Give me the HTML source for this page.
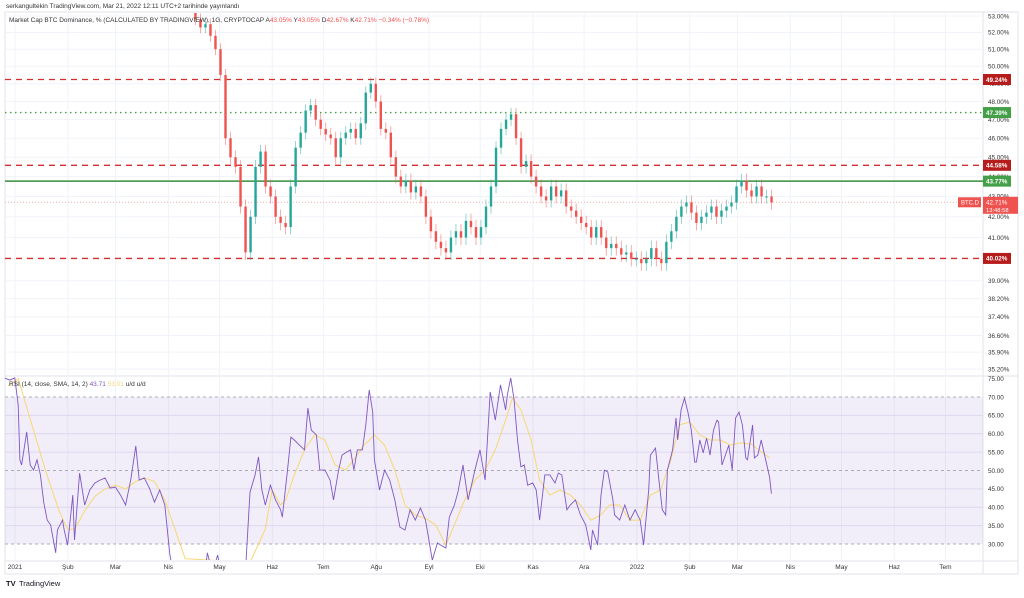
<!DOCTYPE html>
<html><head><meta charset="utf-8"><style>
html,body{margin:0;padding:0;background:#fff;}
body{width:1024px;height:593px;overflow:hidden;font-family:"Liberation Sans",sans-serif;}
</style></head><body>
<svg id="chart" width="1024" height="593" viewBox="0 0 1024 593" xmlns="http://www.w3.org/2000/svg" font-family="Liberation Sans, sans-serif">
<defs>
<clipPath id="mainClip"><rect x="5" y="13" width="978" height="362"/></clipPath>
<clipPath id="rsiClip"><rect x="5" y="377" width="978" height="183"/></clipPath>
</defs>
<text x="6" y="8" font-size="6.5" fill="#333">serkangultekin TradingView.com, Mar 21, 2022 12:11 UTC+2 tarihinde yayınlandı</text>
<rect x="5" y="12" width="1013" height="562" fill="none" stroke="#e0e3eb" stroke-width="1"/>
<line x1="983" y1="12" x2="983" y2="574" stroke="#e0e3eb"/>
<line x1="5" y1="376" x2="1018" y2="376" stroke="#e0e3eb"/>
<line x1="5" y1="561" x2="1018" y2="561" stroke="#e0e3eb"/>
<g id="grid"></g>
<g id="rsiBand"></g>
<g id="levels"></g>
<g id="candles" clip-path="url(#mainClip)"></g>
<g id="rsi" clip-path="url(#rsiClip)"></g>
<g id="axes"></g>
<text x="9" y="22" font-size="6.5" fill="#333">Market Cap BTC Dominance, % (CALCULATED BY TRADINGVIEW), 1G, CRYPTOCAP <tspan fill="#333">A</tspan><tspan fill="#ef5350">43.05%</tspan> Y<tspan fill="#ef5350">43.05%</tspan> D<tspan fill="#ef5350">42.67%</tspan> K<tspan fill="#ef5350">42.71%</tspan> <tspan fill="#ef5350">−0.34% (−0.78%)</tspan></text>
<text x="9" y="386" font-size="6.5" fill="#333">RSI (14, close, SMA, 14, 2) <tspan fill="#7e57c2">43.71</tspan> <tspan fill="#f7d774">53.01</tspan> u/d u/d</text>
<g><text x="6" y="586" font-size="7.5" font-weight="bold" fill="#131722">TV</text><text x="19" y="586" font-size="7.5" fill="#131722">TradingView</text></g>
</svg>
<script>
// ---- data ----
const priceTicks=[53,52,51,50,49,48,47,46,45,44,43,42,41,40,39,38.2,37.4,36.6,35.9,35.2];
const rsiTicks=[75,70,65,60,55,50,45,40,35,30];
const monthLabels=["2021","Şub","Mar","Nis","May","Haz","Tem","Ağu","Eyl","Eki","Kas","Ara","2022","Şub","Mar","Nis","May","Haz","Tem"];
const monthDays=[0,31,59,90,120,151,181,212,243,273,304,334,365,396,424,455,485,516,546];
const candleStartDay=110;
const candleStepDays=2.94;
const closes=[52.8,52.3,52.5,51.8,51,49.5,46,45,44.5,42.5,40.3,42,44.5,45.3,43.5,43,42,41.7,41.5,43.5,45.5,46.3,47.5,47.8,47,46.5,46.2,46,45,46,46.3,46.5,46,46.8,48.5,49,48,46.5,46.3,45,44,43.5,43.8,43.2,43.5,43,42,41.3,40.8,40.5,40.3,41,41.3,41,41.8,41.5,41,41.5,42.5,43.5,45.5,46.5,47,47.3,46,44.5,44.8,44,43.5,43,42.8,43.5,43,43.3,42.5,42.3,42,41.7,41.5,41,41.5,41,40.5,40.7,40.5,40.2,40.3,40,40,39.8,40,40.5,40,39.8,40.8,41.3,42,42.5,42.7,42.2,41.7,42,42.2,42.5,42,42.3,42.5,42.7,43.5,43.8,43.3,43,43.5,43,43,42.7];
const firstOpen=53.5;
const rsiDays=[-2,1,4,6,7,8,11,13,15,17,19,21,23,25,28,29,32,33,35,38,39,42,45,48,51,54,57,60,63,66,69,72,75,77,80,83,86,89,92,95,98,104,110,116,117,120,123,127,133,139,142,145,147,149,151,154,157,160,161,164,166,168,171,174,176,178,181,183,186,189,191,194,196,198,201,203,205,208,210,212,214,215,218,221,224,227,230,233,236,239,242,245,247,249,252,254,257,259,262,264,267,270,272,274,277,280,283,286,289,292,293,295,297,299,301,303,305,308,310,312,315,318,321,323,325,328,330,333,336,339,342,343,346,348,350,352,355,356,359,362,365,368,371,373,376,377,380,382,384,386,387,390,392,393,395,397,399,401,403,404,406,408,410,412,414,416,417,419,421,423,425,427,429,431,433,434,437,438,440,442,444,446,447,448];
const rsiVals=[75.2,74.6,75.2,67.8,52.9,51.5,60.5,51.5,50.1,52.9,48.8,41.2,36.5,35.2,27.6,33.8,36.5,33.8,29.7,43.3,31.1,49.3,40.6,44.7,46.6,47.4,48,45.2,45.5,43.3,40.6,47.4,56.7,47.4,48,45.2,41.4,44.7,40.6,27,20,18,22,24,27.6,22,27,18,15,20,44.1,48.8,53.7,44.7,40.6,46,42,39.3,37.3,50.1,59.1,58.3,56.9,55.6,67,61,59.7,50.1,50.1,47.4,42,50.1,54.2,54.8,55.6,50.1,55.6,55.6,62.4,71.9,65.9,52.9,44.7,50.1,47.4,42,34.6,33.8,39.3,36.5,39.8,36.5,31.1,25.6,30.3,29.7,28.9,37.3,40.6,44.1,51.5,42,46,50.1,55.6,47.4,71.4,63.7,73.3,66.5,70.5,75.2,69.2,58.3,51,51.5,46,46.6,44.7,36.5,48.8,48.8,46.6,49.3,48.8,39.3,40.6,42,37.9,35.2,28.4,33.8,29.7,43.3,50.1,49.6,42,37.9,36.5,40.6,36.5,39.3,36.5,29.7,44.7,54.2,56.1,47.4,39.3,37.9,50.1,55.6,64.3,58.3,66.5,69.7,65.9,61,52.3,52.3,58.3,54.8,58.8,54.2,61,63.7,63.2,51.5,54.2,56.9,50.1,64.3,65.9,62.4,53.4,52.9,62.4,53.4,54.2,58.3,54.2,50.1,48,43.7];
const smaDays=[0,6,13,22,30,35,39,45,51,57,63,69,75,80,86,92,98,104,142,151,155,160,163,168,174,180,186,192,198,203,209,215,221,227,233,239,245,251,257,262,268,274,280,286,292,296,301,307,312,318,324,330,336,342,348,353,359,365,371,377,383,389,394,400,406,412,418,424,430,436,447];
const smaVals=[73,75,64,50,39,34,34,39,43,45,46,45,47,48,47,42,34,26,25,34,44.7,40.6,42,48.8,55.6,59.7,58.3,51.5,50.1,52.9,56.9,59.7,56.9,50.1,40.6,37.9,37,35.2,29.7,35.2,42,47.4,50.1,55.6,63.7,69.7,66.5,58.3,47.4,43.3,44.7,43.3,40.6,36.5,37.9,40.6,40.6,36.5,36.5,43.3,44.7,52.9,62.4,63.2,59.7,58.3,58.3,56.9,57.5,57.2,53.4];
const levelVals=[49.24,47.39,44.58,43.77,40.02];
const levelLabels=["49.24%","47.39%","44.58%","43.77%","40.02%"];
const levelKinds=["red-dash","green-dot","red-dash","green-solid","red-dash"];
const lastPrice=42.71;

// ---- scales ----
const X0=8, PXDAY=1.704, GRID_DX=7;
const xDay=d=>X0+d*PXDAY;
const LTOP=Math.log(53), Y53=16, KLOG=863;
const yP=v=>Y53+(LTOP-Math.log(v))*KLOG;
const yR=v=>397+(70-v)*3.675;
const NS="http://www.w3.org/2000/svg";
function mk(tag,attrs,parent){const e=document.createElementNS(NS,tag);for(const k in attrs)e.setAttribute(k,attrs[k]);parent.appendChild(e);return e;}
const grid=document.getElementById('grid'),axes=document.getElementById('axes');

monthDays.forEach((d,i)=>{
  const x=xDay(d)+GRID_DX;
  const gl=mk('line',{x1:x,y1:13,x2:x,y2:560,stroke:'#f0f3fa','stroke-width':1},grid);
  
  
  const t=mk('text',{x:x,y:569,'font-size':6.5,fill:'#333','text-anchor':'middle'},axes);
  t.textContent=monthLabels[i];
  
  
});
priceTicks.forEach(v=>{
  const y=yP(v);
  const gl=mk('line',{x1:5,y1:y,x2:983,y2:y,stroke:'#f0f3fa','stroke-width':1},grid);
  
  
  const t=mk('text',{x:988,y:y+2.3,'font-size':6.3,fill:'#333'},axes);
  t.textContent=v.toFixed(2)+'%';
  
  
});
const band=document.getElementById('rsiBand');
const br=mk('rect',{x:5,y:yR(70),width:978,height:yR(30)-yR(70),fill:'#7e57c2','fill-opacity':0.1},band);


rsiTicks.forEach(v=>{
  const y=yR(v);
  if(v!==75&&v!==70&&v!==30&&v!==50){const gl=mk('line',{x1:5,y1:y,x2:983,y2:y,stroke:'#e9e6f3','stroke-width':1},grid);
  
  }
  const t=mk('text',{x:988,y:y+2.3,'font-size':6.3,fill:'#333'},axes);
  t.textContent=v.toFixed(2);
  
  
});
[70,50,30].forEach(v=>{
  const l=mk('line',{x1:5,y1:yR(v),x2:983,y2:yR(v),stroke:'#9598a1','stroke-width':0.8,'stroke-dasharray':'3 3'},band);
  
  
});

const lv=document.getElementById('levels');
const lp=mk('line',{x1:5,y1:yP(lastPrice),x2:983,y2:yP(lastPrice),stroke:'#ef9a9a','stroke-width':0.8,'stroke-dasharray':'1 2'},lv);


levelVals.forEach((v,i)=>{
  const y=yP(v),k=levelKinds[i];
  let col,dash,w;
  if(k==='red-dash'){col='#d32f2f';dash='6 5';w=1.3;}
  else if(k==='green-dot'){col='#43a047';dash='1.5 3.5';w=1.3;}
  else {col='#388e3c';dash='none';w=1.6;}
  const l=mk('line',{x1:5,y1:y,x2:983,y2:y,stroke:col,'stroke-width':w,'stroke-dasharray':dash},lv);
  
  
  const bg=mk('rect',{x:983,y:y-5.5,width:28,height:11,fill:k==='red-dash'?'#b71c1c':'#43a047'},axes);
  
  
  const t=mk('text',{x:986,y:y+2.3,'font-size':6.3,fill:'#fff','font-weight':'bold'},axes);
  t.textContent=levelLabels[i];
  
  
});
{const y=yP(lastPrice);
const r=mk('rect',{x:983,y:y-5.5,width:35,height:17,fill:'#ef5350'},axes);


const t=mk('text',{x:986,y:y+2.3,'font-size':6.3,fill:'#fff'},axes);t.textContent=lastPrice.toFixed(2)+'%';


const t2=mk('text',{x:986,y:y+9.5,'font-size':5.8,fill:'#fff'},axes);t2.textContent='13:48:58';


const s=mk('rect',{x:958,y:y-5,width:23,height:10,fill:'#ef5350'},axes);


const st=mk('text',{x:961,y:y+2.3,'font-size':6,fill:'#fff'},axes);st.textContent='BTC.D';

}

const cg=document.getElementById('candles');
let prev=firstOpen;
closes.forEach((c,i)=>{
  const o=prev; prev=c;
  const x=xDay(candleStartDay+i*candleStepDays);
  const up=c>=o, col=up?'#26a69a':'#ef5350';
  const hi=Math.max(o,c)+0.35, lo=Math.min(o,c)-0.35;
  const w=mk('line',{x1:x,y1:yP(hi),x2:x,y2:yP(lo),stroke:col,'stroke-width':0.8,'stroke-opacity':0.6},cg);
  
  
  const yt=yP(Math.max(o,c)),yb=yP(Math.min(o,c));
  const b=mk('rect',{x:x-1.2,y:yt,width:2.4,height:Math.max(1,yb-yt),fill:col},cg);
  
  
});

const rg=document.getElementById('rsi');
const sp=mk('path',{d:smaDays.map((d,i)=>(i?'L':'M')+xDay(d).toFixed(1)+' '+yR(smaVals[i]).toFixed(1)).join(''),fill:'none',stroke:'#f7d774','stroke-width':1},rg);


const rp=mk('path',{d:rsiDays.map((d,i)=>(i?'L':'M')+xDay(d).toFixed(1)+' '+yR(rsiVals[i]).toFixed(1)).join(''),fill:'none',stroke:'#7e57c2','stroke-width':0.9},rg);


</script>
</body></html>
